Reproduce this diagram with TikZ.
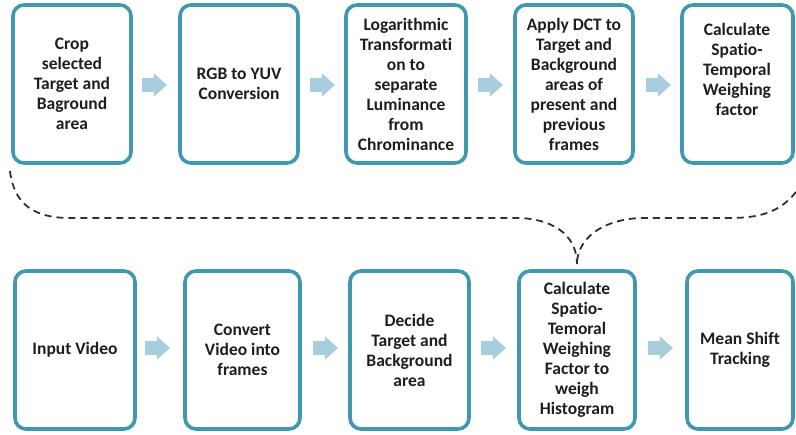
\documentclass[tikz,border=0pt]{standalone}
\usepackage{fontspec}
\setmainfont{Carlito}[RawFeature={-liga;-calt;-dlig;-clig}]
\definecolor{boxline}{HTML}{4197AE}
\definecolor{arrowfill}{HTML}{A8CDDD}
\definecolor{dashcol}{HTML}{303030}
\definecolor{txt}{HTML}{1E1E1E}
\begin{document}
\begin{tikzpicture}[x=1pt,y=-1pt,
  stepbox/.style={draw=boxline,line width=3.6pt,rounded corners=11pt,fill=white,
    inner sep=0pt,align=center,text=txt,
    font=\fontsize{17.5}{20}\selectfont\bfseries},
  boxtext/.style={inner sep=0pt,align=center,text=txt,
    font=\fontsize{17.5}{20}\selectfont\bfseries},
  barrow/.pic={\fill[arrowfill] (0,-7) -- (12,-7) -- (12,-11.5) -- (25,0) -- (12,11.5) -- (12,7) -- (0,7) -- cycle;},
  loop/.style={draw=dashcol,line width=1.8pt,dash pattern=on 7pt off 5pt}]
\useasboundingbox (0,0) rectangle (796,435);
% top row
\node[stepbox,minimum width=118pt,minimum height=158pt] (b1) at (72,84) {Crop\\selected\\Target and\\Baground\\area};
\node[stepbox,minimum width=118pt,minimum height=158pt] (b2) at (239,84) {RGB to YUV\\Conversion};
\node[stepbox,minimum width=120pt,minimum height=158pt] (b3) at (406,84) {Logarithmic\\Transformat\kern0pt i\\on to\\separate\\Luminance\\from\\Chrominance};
\node[stepbox,minimum width=118pt,minimum height=158pt] (b4) at (574,84) {Apply DCT to\\Target and\\Background\\areas of\\present and\\previous\\frames};
\node[stepbox,minimum width=111pt,minimum height=158pt] (b5) at (737.5,84) {};
\node[boxtext] (t5) at (737,69) {Calculate\\Spat\kern0pt io-\\Temporal\\Weighing\\factor};
% bottom row
\node[stepbox,minimum width=120pt,minimum height=158pt] (b6) at (75,350) {Input Video};
\node[stepbox,minimum width=115pt,minimum height=158pt] (b7) at (242.5,350) {Convert\\Video into\\frames};
\node[stepbox,minimum width=119pt,minimum height=158pt] (b8) at (409.5,350) {Decide\\Target and\\Background\\area};
\node[stepbox,minimum width=116pt,minimum height=158pt] (b9) at (577,350) {Calculate\\Spat\kern0pt io-\\Temoral\\Weighing\\Factor to\\weigh\\Histogram};
\node[stepbox,minimum width=106pt,minimum height=158pt] (b10) at (740,350) {Mean Shift\\Tracking};
% block arrows
\pic at (142,85) {barrow};
\pic at (310,85) {barrow};
\pic at (478,85) {barrow};
\pic at (646,85) {barrow};
\pic at (145,348) {barrow};
\pic at (313,348) {barrow};
\pic at (481,348) {barrow};
\pic at (648,348) {barrow};
% dashed loop
\coordinate (ls) at (10,171);
\coordinate (rs) at (796,192);
\draw[loop,shorten >=5pt] (ls) .. controls (14,205) and (35,218) .. (70,218) -- (520,218) .. controls (560,220) and (577,240) .. (b9.north);
\draw[loop,shorten >=5pt] (rs) .. controls (780,212) and (760,218) .. (730,218) -- (640,218) .. controls (600,220) and (577,240) .. (b9.north);
\end{tikzpicture}
\end{document}
